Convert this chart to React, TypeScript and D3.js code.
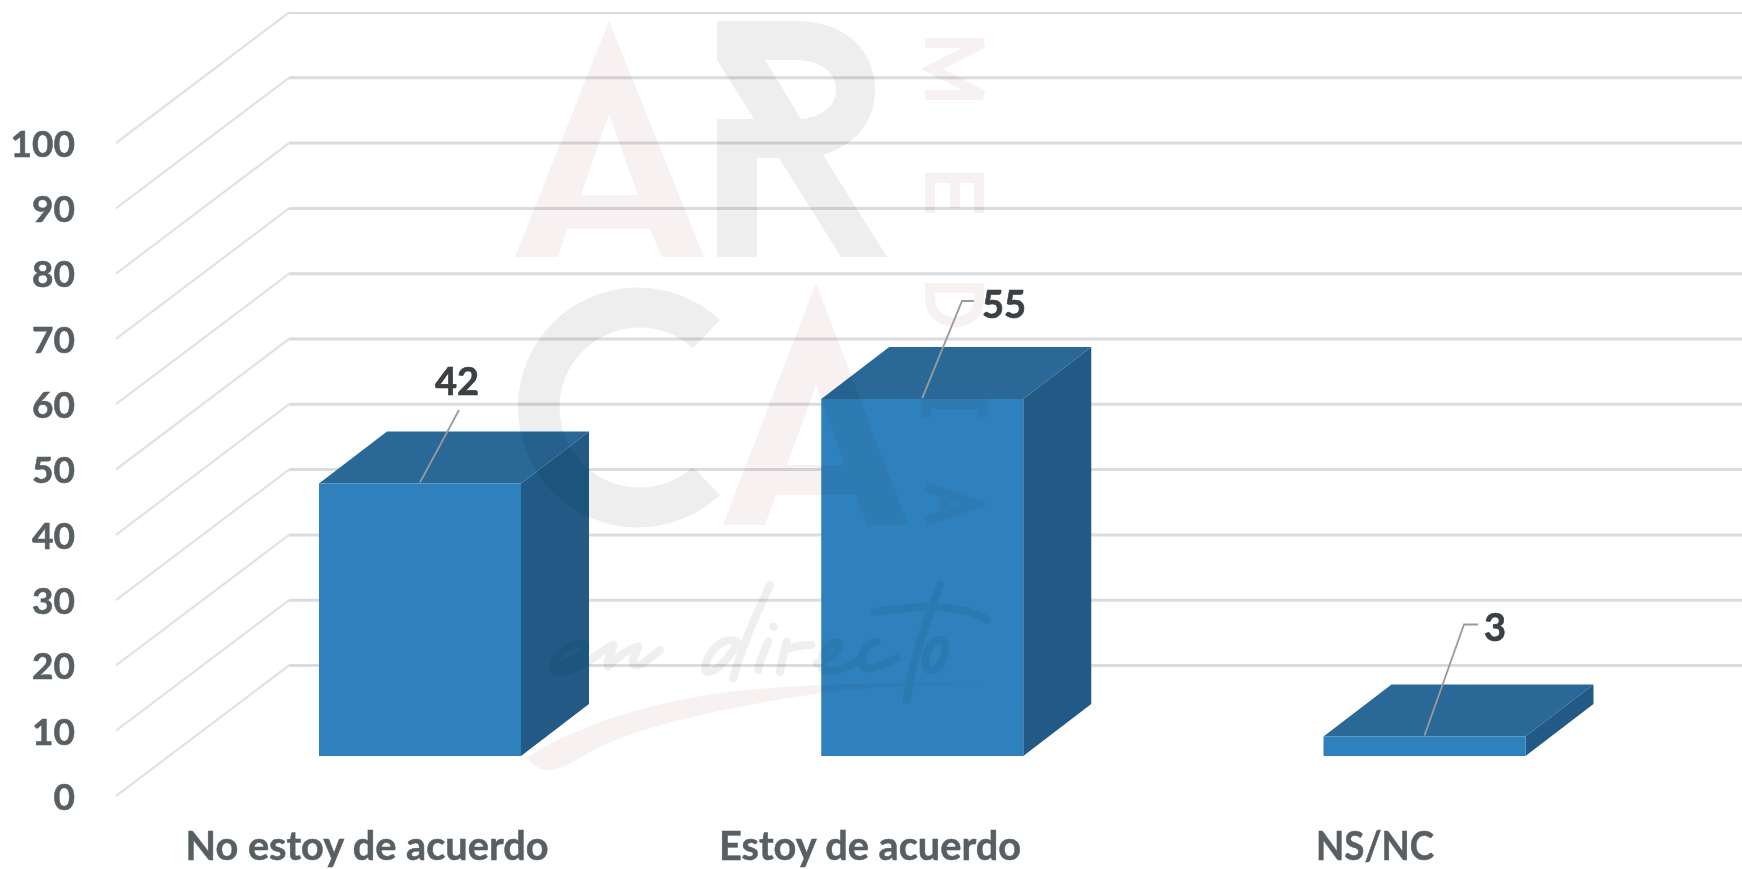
import React from "react";
import * as d3 from "d3";

const categories = ["No estoy de acuerdo", "Estoy de acuerdo", "NS/NC"];
const values = [42, 55, 3];
const tickValues = [0, 10, 20, 30, 40, 50, 60, 70, 80, 90, 100];

const W = 1742;
const H = 869;
const FONT = "Lato, 'Open Sans', sans-serif";

// front edge of the chart floor / walls
const y = d3.scaleLinear().domain([0, 100]).range([796, 143]);
const wall = { dx: 173, dy: -130.5, frontX: 116 };
const barBaseY = 756;
const barH = d3.scaleLinear().domain([0, 100]).range([0, 649]);
const barCenter = d3.scalePoint<string>().domain(categories).range([420, 1424.5]);
const barW = 202;
const depth = { dx: 68, dy: -52 };
const labelCenters = [367, 870, 1375];
const labelWidths = [363, 302, 118];
const leaders = [
  { elbow: [459, 410], end: [459, 410], label: [457, 381] },
  { elbow: [962, 301], end: [974, 301], label: [1004, 304] },
  { elbow: [1464, 624.5], end: [1478, 624.5], label: [1495, 627] },
];

const poly = (pts: number[][]) => d3.line()(pts as [number, number][]) + "Z";
const line = d3.line();

function Watermark() {
  const pink = "#f8f1f1";
  const gray = "#eeeeee";
  const script = "#efefef";
  return (
    <g style={{ mixBlendMode: "multiply" }}>
      <path
        fill={pink}
        fillRule="evenodd"
        d="M609 21L704 257H662L650 229H567L558 257H515ZM609 114L581 195H638Z"
      />
      <path
        fill={gray}
        fillRule="evenodd"
        d="M717 21H796C845 21 875 50 875 90C875 122 855 145 823 155L887 257H841L779 158H757V257H717V119H754L717 60ZM765 60L801 119C822 117 836 106 836 90C836 72 820 60 795 60Z"
      />
      <path
        fill={gray}
        d="M720 320A120 120 0 1 0 720 495L693 467A80 80 0 1 1 693 348Z"
      />
      <path
        fill={pink}
        fillRule="evenodd"
        d="M816 283L908 525H867L856 495H776L765 525H723ZM816 385L787 465H845Z"
      />
      <g fill="none" stroke={pink} strokeWidth={10}>
        <path d="M925 43H983L932 69L983 95H925" />
        <path d="M930 213V178H979V213M955 178V208" />
        <path d="M930 288H979V298C979 314 968 322 955 322C942 322 930 314 930 298Z" />
        <path d="M926 417V404H983V417" />
        <path d="M926 487L974 504L926 521M945 493V515" />
      </g>
      <path
        fill={pink}
        d="M527 757C580 725 640 705 720 693C770 686 860 682 990 683C880 684 820 692 760 703C690 716 630 730 590 752C570 764 560 770 548 770C540 770 532 765 527 757Z"
      />
      <g
        transform={`translate(510 570) scale(${1 / 3})`}
        fill="none"
        stroke={script}
        strokeWidth={24}
        strokeLinecap="round"
        strokeLinejoin="round"
      >
        <path d="M135 285C190 280 240 245 225 225C200 205 125 255 130 295C135 320 190 300 240 270C270 250 300 225 310 225C305 250 285 280 295 290C320 260 360 235 385 230C375 260 350 290 390 285C410 275 430 255 450 240" />
        <path d="M780 45C740 130 690 240 670 325" />
        <path d="M680 215C640 195 585 250 585 300C595 320 640 290 680 225" />
        <path d="M775 215C760 250 745 280 745 300" />
        <path d="M790 170L791 171" />
        <path d="M830 215C820 250 815 280 810 305M825 240C850 230 880 225 905 225" />
        <path d="M920 280C960 270 1000 235 985 220C960 205 925 260 935 295C960 315 1030 290 1060 260" />
        <path d="M1100 215C1060 220 1040 280 1065 295C1090 300 1130 280 1160 265" />
        <path d="M1290 45C1250 150 1200 300 1190 390" />
        <path d="M1095 125C1200 110 1350 95 1430 150" />
        <path d="M1290 210C1250 215 1235 280 1255 300C1290 310 1320 240 1300 215" />
      </g>
    </g>
  );
}

export default function App() {
  return (
    <svg
      width={W}
      height={H}
      viewBox={`0 0 ${W} ${H}`}
      style={{ position: "absolute", left: 0, top: 0, background: "#fff" }}
    >
      <defs>
        <filter id="soft" x="0" y="0" width="100%" height="100%">
          <feGaussianBlur stdDeviation="0.6" />
        </filter>
      </defs>
      <g filter="url(#soft)">
        <g fill="none">
          {tickValues.map((t) => (
            <g key={t}>
              <path
                d={
                  line([
                    [wall.frontX, y(t)],
                    [wall.frontX + wall.dx, y(t) + wall.dy],
                  ]) as string
                }
                stroke="#e2e2e2"
                strokeWidth={2.2}
              />
              <path
                d={
                  line([
                    [wall.frontX + wall.dx, y(t) + wall.dy],
                    [W, y(t) + wall.dy],
                  ]) as string
                }
                stroke="#d9dce0"
                strokeWidth={3}
              />
            </g>
          ))}
        </g>

        {categories.map((c, i) => {
          const cx = barCenter(c) as number;
          const l = cx - barW / 2;
          const r = cx + barW / 2;
          const b = barBaseY;
          const t = b - barH(values[i]);
          return (
            <g key={c}>
              <path
                fill="#296897"
                d={poly([
                  [l, t],
                  [l + depth.dx, t + depth.dy],
                  [r + depth.dx, t + depth.dy],
                  [r, t],
                ])}
              />
              <path
                fill="#215a85"
                d={poly([
                  [r, t],
                  [r + depth.dx, t + depth.dy],
                  [r + depth.dx, b + depth.dy],
                  [r, b],
                ])}
              />
              <path
                fill="#2e81bd"
                d={poly([
                  [l, t],
                  [r, t],
                  [r, b],
                  [l, b],
                ])}
              />
            </g>
          );
        })}

        <Watermark />

        {categories.map((c, i) => {
          const cx = barCenter(c) as number;
          const t = barBaseY - barH(values[i]);
          const ld = leaders[i];
          return (
            <g key={c}>
              <path
                fill="none"
                stroke="#9a9a9a"
                strokeWidth={1.8}
                d={
                  line([[cx, t - 1], ld.elbow, ld.end] as [number, number][]) as string
                }
              />
              <text
                x={ld.label[0]}
                y={ld.label[1]}
                dy="0.36em"
                textAnchor="middle"
                fontFamily={FONT}
                fontWeight={700}
                fontSize={38}
                stroke="#3c4043"
                strokeWidth={0.7}
                fill="#3c4043"
              >
                {values[i]}
              </text>
            </g>
          );
        })}

        {tickValues.map((t) => (
          <text
            key={t}
            x={75}
            y={y(t) + 0.5}
            dy="0.36em"
            textAnchor="end"
            fontFamily={FONT}
            fontWeight={700}
            fontSize={37}
            stroke="#595f63"
            strokeWidth={0.6}
            fill="#595f63"
          >
            {t}
          </text>
        ))}

        {categories.map((c, i) => (
          <text
            key={c}
            x={labelCenters[i]}
            y={860}
            textAnchor="middle"
            textLength={labelWidths[i]}
            lengthAdjust="spacingAndGlyphs"
            fontFamily={FONT}
            fontWeight={700}
            fontSize={40}
            stroke="#595f63"
            strokeWidth={0.5}
            fill="#595f63"
          >
            {c}
          </text>
        ))}
      </g>
    </svg>
  );
}
